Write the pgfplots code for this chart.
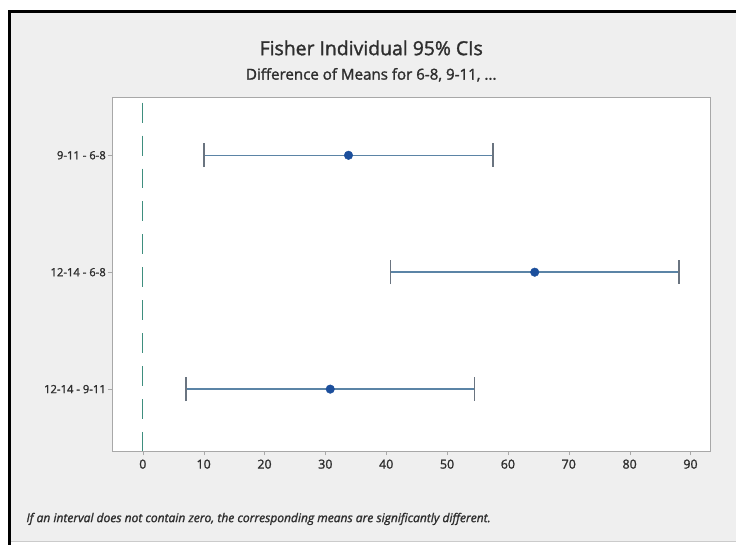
\documentclass[border=0pt]{standalone}
\usepackage{pgfplots}
\pgfplotsset{compat=1.18}
\usepackage{fontspec}
\setmainfont{Open Sans}
\newfontfamily\semib{Open Sans}[FakeBold=1.5]
\definecolor{bgray}{HTML}{EFEFEF}
\definecolor{frameline}{HTML}{A8A8A8}
\definecolor{refgreen}{HTML}{3E8E7E}
\definecolor{ciline}{HTML}{5B84A6}
\definecolor{capcol}{HTML}{6A7480}
\definecolor{dotblue}{HTML}{1C4F9C}
\definecolor{txt}{HTML}{2E2E2E}
\begin{document}
\begin{tikzpicture}[x=1bp,y=1bp]
\fill[white] (0,0) rectangle (737,-546);
\fill[bgray] (10,-12) rectangle (737,-542);
\draw[frameline!60, line width=0.8bp] (10,-542) -- (737,-542);
\draw[black, line width=3bp] (10,-546) -- (10,-12) -- (737,-12);
\node[txt, font=\semib\fontsize{19.5}{22}\selectfont] at (372,-48) {Fisher Individual 95\% CIs};
\node[txt, font=\semib\fontsize{15.2}{17}\selectfont] at (372,-75) {Difference of Means for 6-8, 9-11, ...};
\node[txt, anchor=west, font=\semib\fontsize{12.1}{14}\itshape] at (23,-520) {If an interval does not contain zero, the corresponding means are significantly different.};
\begin{axis}[
  at={(112bp,-452bp)}, anchor=south west, scale only axis,
  width=600bp, height=355bp,
  xmin=-5.1, xmax=93.3, ymin=0.47, ymax=3.5,
  xtick={0,10,...,90}, ytick={1,2,3},
  yticklabels={12-14 - 9-11, 12-14 - 6-8, 9-11 - 6-8},
  xtick pos=bottom, ytick pos=left, tick align=outside,
  major tick length=4bp,
  axis line style={frameline}, tick style={frameline},
  axis background/.style={fill=white},
  /pgf/number format/assume math mode=true,
  xticklabel style={txt, font=\semib\fontsize{12.5}{14}\selectfont, yshift=-1bp},
  yticklabel style={txt, font=\semib\fontsize{11.3}{13}\selectfont, xshift=1.5bp},
  clip=false,
]
\addplot[refgreen, line width=1.3bp, dash pattern=on 20bp off 13bp] coordinates {(0,3.45) (0,0.47)};
\addplot[only marks, mark=*, mark size=4.3bp,
  mark options={dotblue, fill=dotblue},
  error bars/.cd, x dir=both, x explicit,
  error bar style={ciline, line width=1.5bp},
  error mark options={capcol, line width=1.6bp, mark size=12bp, rotate=90}]
  coordinates {
  (33.8,3) +- (23.7,0)
  (64.4,2) +- (23.7,0)
  (30.8,1) +- (23.7,0)
  };
\end{axis}
\end{tikzpicture}
\end{document}
